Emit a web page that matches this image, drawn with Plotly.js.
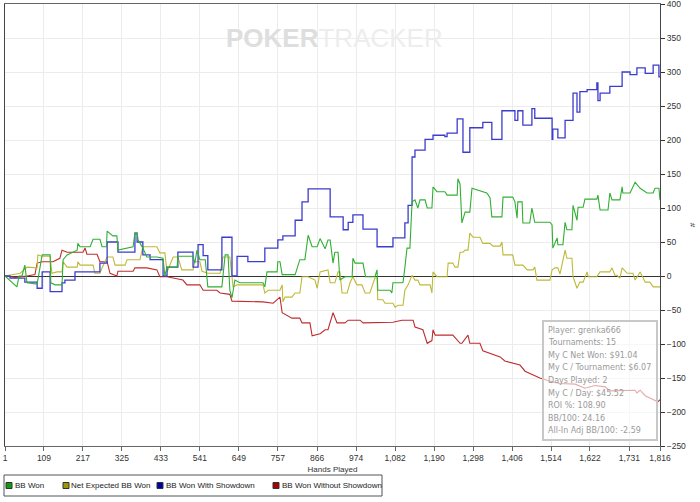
<!DOCTYPE html>
<html><head><meta charset="utf-8">
<script src="https://cdn.plot.ly/plotly-3.0.1.min.js"></script>
<style>html,body{margin:0;padding:0;background:#fff}#chart{width:700px;height:502px}</style>
</head><body><div id="chart"></div>
<script>
// ---- data (hands played, big blinds) ----
const tickHands = [1,109,217,325,433,541,649,757,866,974,1082,1190,1298,1406,1514,1622,1731,1816];
const tickLabels = ["1","109","217","325","433","541","649","757","866","974","1,082","1,190","1,298","1,406","1,514","1,622","1,731","1,816"];

const blueHands = [1,15,56,90,104,126,159,167,195,264,284,314,361,367,383,403,439,450,480,522,536,550,563,602,630,644,674,721,757,771,805,824,841,902,938,952,965,993,1032,1076,1109,1118,1129,1137,1165,1187,1220,1226,1254,1270,1289,1325,1350,1378,1414,1422,1436,1461,1469,1517,1519,1533,1553,1575,1586,1594,1614,1641,1644,1650,1677,1711,1733,1752,1775,1797,1813,1816];
const blueVals = [0,-3,-9,-18,6,-23,-10,-6,6,19,50,35,63,50,31,24,0,13,35,13,46,30,9,57,0,29,21,41,53,59,82,109,128,87,68,79,90,69,43,56,78,104,175,185,201,207,205,210,231,182,218,226,201,243,229,243,222,246,232,201,216,203,229,269,241,271,274,284,258,269,279,300,296,306,298,310,293,293];

const greenHands = [1,29,34,40,48,56,62,90,104,126,128,140,159,162,173,201,203,209,237,245,264,270,282,284,300,311,314,356,361,367,370,383,394,422,439,444,450,478,480,522,527,533,541,556,563,602,611,619,624,630,638,652,716,721,727,755,757,763,769,805,818,832,841,852,866,874,888,896,902,910,915,924,929,943,963,965,971,993,1000,1026,1032,1034,1068,1073,1076,1101,1104,1109,1115,1123,1129,1137,1145,1151,1165,1171,1184,1187,1198,1220,1226,1254,1256,1262,1267,1276,1289,1295,1336,1345,1350,1378,1381,1408,1414,1420,1422,1434,1436,1455,1461,1469,1511,1517,1519,1531,1533,1547,1553,1558,1572,1575,1586,1589,1603,1608,1641,1644,1650,1672,1677,1683,1705,1711,1713,1733,1747,1761,1780,1797,1802,1813,1816];
const greenVals = [0,-14,-16,0,0,16,-10,-12,31,31,-10,-13,-13,24,31,38,48,43,43,54,54,43,43,66,59,59,38,43,63,63,53,41,28,28,26,0,13,13,29,29,19,38,24,24,-16,-16,31,31,-21,-32,-6,-10,-10,-16,6,6,21,21,2,2,24,24,60,43,43,55,40,53,53,19,35,35,-6,-1,-1,26,19,19,-1,-1,9,-21,-21,-25,-10,-10,-9,12,41,41,109,112,100,112,112,100,100,131,124,124,119,119,143,135,78,94,94,129,122,115,87,87,116,116,109,85,109,109,78,78,100,79,79,75,41,56,46,46,79,68,68,104,82,101,101,113,113,119,97,97,122,112,112,131,122,122,138,129,122,122,129,129,112];

const yellowHands = [1,43,62,76,90,92,104,126,131,145,159,162,173,201,203,209,245,250,264,270,284,300,306,334,339,375,383,422,430,444,450,467,480,491,522,527,541,547,563,597,605,624,633,644,716,721,730,763,769,771,777,796,805,818,824,841,860,866,874,896,902,915,924,929,935,949,957,965,976,990,999,1012,1026,1032,1034,1048,1054,1076,1082,1090,1104,1109,1118,1129,1137,1145,1151,1179,1184,1187,1198,1226,1229,1242,1248,1256,1262,1270,1276,1284,1289,1298,1317,1325,1345,1353,1373,1378,1381,1408,1414,1436,1448,1464,1469,1475,1511,1517,1525,1533,1539,1553,1558,1572,1575,1586,1594,1603,1614,1617,1641,1650,1677,1683,1691,1697,1705,1711,1725,1741,1747,1761,1775,1788,1797,1816];
const yellowVals = [0,4,13,12,12,31,29,29,4,6,6,21,13,13,21,16,16,4,4,12,28,28,16,16,24,24,43,43,34,34,6,28,28,9,9,21,21,7,4,4,28,28,-16,-13,-13,-25,-21,-21,-13,-38,-31,-31,-25,-25,-1,-1,-6,-18,6,9,-10,-10,6,6,-25,-25,-10,-1,-13,-13,-25,-25,-3,-3,-35,-35,-40,-40,-46,-43,-43,-21,-13,1,-6,-6,-13,-13,-25,6,-1,-1,19,19,13,13,35,35,38,38,63,57,57,48,48,44,44,50,31,31,16,16,9,9,13,-6,-6,9,12,12,3,38,26,26,-1,-18,-9,-9,6,-1,-1,6,6,12,1,1,-3,12,4,4,-6,6,-9,-9,-16,-16];

const redHands = [1,29,62,84,90,104,134,153,159,173,217,223,228,256,264,284,292,311,314,356,361,394,422,430,450,494,505,541,550,588,597,624,630,672,716,744,755,763,769,796,818,824,846,852,874,888,896,910,921,943,952,985,993,1068,1076,1101,1132,1137,1159,1171,1184,1187,1193,1242,1262,1267,1284,1289,1317,1325,1373,1386,1428,1442,1469,1483,1519,1539,1581,1608,1636,1664,1677,1705,1733,1747,1752,1761,1775,1797,1810,1816];
const redVals = [0,-2,0,2,19,21,21,26,38,35,35,41,32,32,21,21,4,0,7,7,12,12,9,-1,-1,-6,-13,-13,-21,-21,-25,-27,-37,-37,-38,-40,-35,-31,-54,-62,-62,-69,-69,-88,-85,-79,-79,-54,-69,-69,-65,-65,-69,-69,-68,-65,-65,-75,-79,-99,-95,-79,-87,-87,-99,-99,-87,-99,-99,-110,-119,-125,-131,-140,-147,-150,-156,-158,-159,-165,-161,-163,-169,-169,-168,-168,-172,-168,-176,-181,-185,-182];

const seriesNames = ["BB Won","Net Expected BB Won","BB Won With Showdown","BB Won Without Showdown"];
const statsLines = ["Player: grenka666","Tournaments: 15","My C Net Won: $91.04","My C / Tournament: $6.07","Days Played: 2","My C / Day: $45.52","ROI %: 108.90","BB/100: 24.16","All-In Adj BB/100: -2.59"];

// ---- styling ----
const lineColors = ["rgb(50,175,50)","rgb(190,185,55)","rgb(60,60,205)","rgb(190,45,45)"];
const swatchColors = ["#119911","#999900","#0000aa","#aa0000"];

const L=5,R=660,T=4,B=446;
const pxX = x => (x-L)/(R-L);
const pxY = y => (B-y)/(B-T);

const traces = [
  {x: redHands, y: redVals, mode:'lines', line:{color:lineColors[3], width:1.1}, name:seriesNames[3], showlegend:false, hoverinfo:'skip'},
  {x: yellowHands, y: yellowVals, mode:'lines', line:{color:lineColors[1], width:1.1}, name:seriesNames[1], showlegend:false, hoverinfo:'skip'},
  {x: blueHands, y: blueVals, mode:'lines', line:{color:lineColors[2], width:1.3, shape:'hv'}, name:seriesNames[2], showlegend:false, hoverinfo:'skip'},
  {x: greenHands, y: greenVals, mode:'lines', line:{color:lineColors[0], width:1.1}, name:seriesNames[0], showlegend:false, hoverinfo:'skip'}
];

const shapes = [];
const annotations = [];
// legend box
shapes.push({type:'rect', xref:'paper', yref:'paper', x0:pxX(4), x1:pxX(382), y0:pxY(496), y1:pxY(475), line:{color:'#555', width:1}, fillcolor:'rgba(0,0,0,0)'});
const swX = [6,63,157,273];
const txX = [14,70,165,281];
for (let i=0;i<4;i++){
  shapes.push({type:'rect', xref:'paper', yref:'paper', x0:pxX(swX[i]), x1:pxX(swX[i]+6), y0:pxY(488.5), y1:pxY(482.5), fillcolor:swatchColors[i], line:{color:'#333', width:1}});
  annotations.push({xref:'paper', yref:'paper', x:pxX(txX[i]), y:pxY(485.5), xanchor:'left', yanchor:'middle', showarrow:false, text:seriesNames[i], font:{family:'Liberation Sans, Arial, sans-serif', size:8, color:'#222'}, borderpad:0});
}
// stats box
shapes.push({type:'rect', xref:'paper', yref:'paper', x0:pxX(543), x1:pxX(657), y0:pxY(440), y1:pxY(321), fillcolor:'rgba(255,255,255,0.6)', line:{color:'#c8c8c8', width:2}});
statsLines.forEach((t,i)=>{
  annotations.push({xref:'paper', yref:'paper', x:pxX(547), y:pxY(330+12.6*i), xanchor:'left', yanchor:'middle', showarrow:false, text:t, font:{family:'DejaVu Sans, sans-serif', size:8, color:'#9a9a9a'}, borderpad:0});
});
// watermark
annotations.push({xref:'paper', yref:'paper', x:pxX(335), y:pxY(38), xanchor:'center', yanchor:'middle', showarrow:false,
  text:'<span style="color:#dedede"><b>POKER</b></span><span style="color:#ededed">TRACKER</span>',
  font:{family:'Liberation Sans, Arial, sans-serif', size:26}});

const tickFont = {family:'Liberation Sans, Arial, sans-serif', size:8.5, color:'#333'};
const layout = {
  width:700, height:502,
  margin:{l:L, r:700-R, t:T, b:502-B, pad:0},
  paper_bgcolor:'#fff', plot_bgcolor:'#fff',
  showlegend:false,
  xaxis:{range:[1,1816], tickmode:'array', tickvals:tickHands, ticktext:tickLabels, tickfont:tickFont,
    ticks:'outside', ticklen:4, tickcolor:'#666', showgrid:true, gridcolor:'#ececec', gridwidth:1,
    showline:true, linecolor:'#666', linewidth:1, mirror:true, zeroline:false, ticklabeloverflow:'allow',
    title:{text:'Hands Played', font:{family:'Liberation Sans, Arial, sans-serif', size:8, color:'#333'}, standoff:4}},
  yaxis:{range:[-250,400], side:'right', dtick:50, tick0:0, tickfont:tickFont,
    ticks:'outside', ticklen:4, tickcolor:'#333', showgrid:true, gridcolor:'#ececec', gridwidth:1,
    showline:true, linecolor:'#444', linewidth:1, mirror:true, ticklabeloverflow:'allow',
    zeroline:true, zerolinecolor:'#333', zerolinewidth:1,
    title:{text:'#', font:{family:'Liberation Sans, Arial, sans-serif', size:8, color:'#333'}, standoff:4}},
  shapes:shapes, annotations:annotations
};
Plotly.newPlot('chart', traces, layout, {staticPlot:true, displayModeBar:false});
</script></body></html>
